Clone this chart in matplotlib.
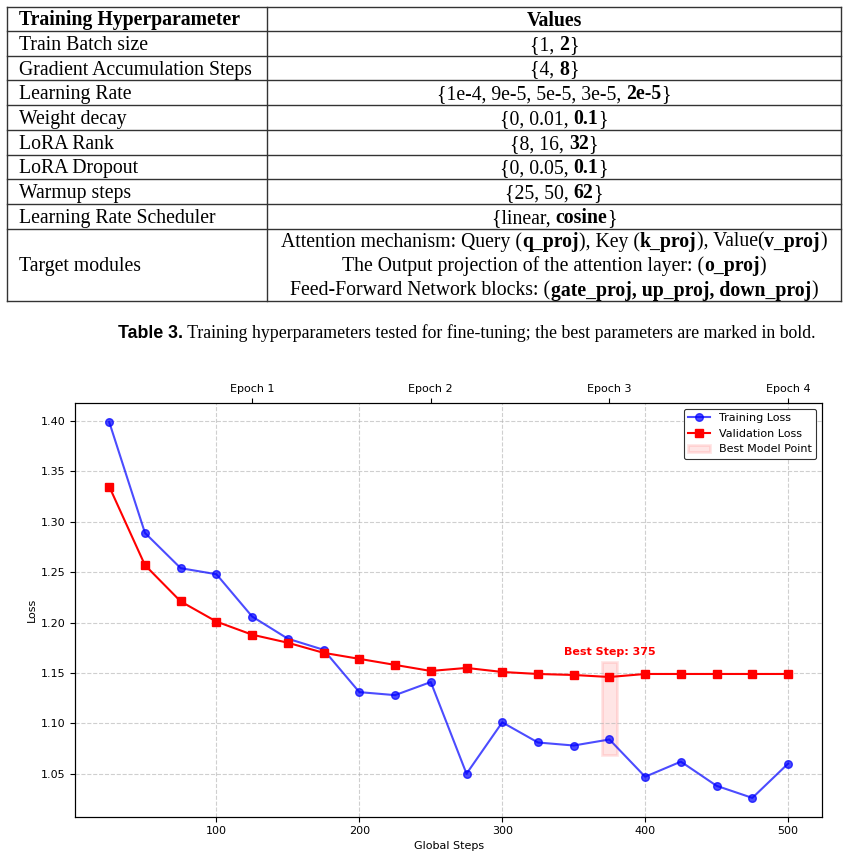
import numpy as np
import matplotlib
matplotlib.use("Agg")
import matplotlib.pyplot as plt
from matplotlib.patches import Rectangle
from matplotlib.lines import Line2D

# ---------------- data ----------------
steps = [25, 50, 75, 100, 125, 150, 175, 200, 225, 250, 275, 300, 325, 350,
         375, 400, 425, 450, 475, 500]
train_loss = [1.399, 1.289, 1.254, 1.248, 1.206, 1.184, 1.173, 1.131, 1.128,
              1.141, 1.050, 1.101, 1.081, 1.078, 1.084, 1.047, 1.062, 1.038,
              1.026, 1.060]
val_loss = [1.335, 1.257, 1.221, 1.201, 1.188, 1.180, 1.170, 1.164, 1.158,
            1.152, 1.155, 1.151, 1.149, 1.148, 1.146, 1.149, 1.149, 1.149,
            1.149, 1.149]
epoch_steps = [125, 250, 375, 500]
epoch_labels = ["Epoch 1", "Epoch 2", "Epoch 3", "Epoch 4"]

table_header = ["Training Hyperparameter", "Values"]
param_names = ["Train Batch size", "Gradient Accumulation Steps", "Learning Rate",
               "Weight decay", "LoRA Rank", "LoRA Dropout", "Warmup steps",
               "Learning Rate Scheduler", "Target modules"]
# each value: list of lines, each line a list of (text, is_bold)
param_values = [
    [[("{1, ", False), ("2", True), ("}", False)]],
    [[("{4, ", False), ("8", True), ("}", False)]],
    [[("{1e-4, 9e-5, 5e-5, 3e-5, ", False), ("2e-5", True), ("}", False)]],
    [[("{0, 0.01, ", False), ("0.1", True), ("}", False)]],
    [[("{8, 16, ", False), ("32", True), ("}", False)]],
    [[("{0, 0.05, ", False), ("0.1", True), ("}", False)]],
    [[("{25, 50, ", False), ("62", True), ("}", False)]],
    [[("{linear, ", False), ("cosine", True), ("}", False)]],
    [[("Attention mechanism: Query (", False), ("q_proj", True), ("), Key (", False),
      ("k_proj", True), ("), Value(", False), ("v_proj", True), (")", False)],
     [("The Output projection of the attention layer: (", False), ("o_proj", True), (")", False)],
     [("Feed-Forward Network blocks: (", False), ("gate_proj, up_proj, down_proj", True), (")", False)]],
]
caption_bold = "Table 3."
caption_text = " Training hyperparameters tested for fine-tuning; the best parameters are marked in bold."

# ---------------- figure ----------------
W, H = 848, 859
fig = plt.figure(figsize=(W / 100, H / 100), dpi=100)
renderer = fig.canvas.get_renderer()

SERIF = "Liberation Serif"
TFS = 14.2


def fx(x):
    return x / W


def fy(y):
    return 1 - y / H


def seg_width(s, **kw):
    t = fig.text(0, 0, "|" + s + "|", **kw)
    w1 = t.get_window_extent(renderer).width
    t.remove()
    t = fig.text(0, 0, "||", **kw)
    w0 = t.get_window_extent(renderer).width
    t.remove()
    return w1 - w0


def rich_text(x, y, segs, ha="center", family=SERIF, size=TFS):
    kws = [dict(family=family, size=size, weight="bold" if b else "normal") for s, b in segs]
    widths = [seg_width(s, **kw) for (s, b), kw in zip(segs, kws)]
    total = sum(widths)
    x0 = x - total / 2 if ha == "center" else x
    for (s, b), kw, w in zip(segs, kws, widths):
        fig.text(fx(x0), fy(y), s, ha="left", va="baseline", **kw)
        x0 += w


# ---------------- table ----------------
tl, tr, tmid = 7, 841, 267
row_edges = [7, 31, 55.7, 80.4, 105.1, 129.8, 154.5, 179.2, 204, 228.8, 301]
lc = "#333333"
for yy in row_edges:
    fig.add_artist(Line2D([fx(tl), fx(tr)], [fy(yy), fy(yy)], color=lc, lw=1.0))
for xx in (tl, tmid, tr):
    fig.add_artist(Line2D([fx(xx), fx(xx)], [fy(row_edges[0]), fy(row_edges[-1])], color=lc, lw=1.0))

base_off = 6.5
hy = (row_edges[0] + row_edges[1]) / 2 + base_off
fig.text(fx(19), fy(hy), table_header[0], family=SERIF, size=TFS, weight="bold", va="baseline")
fig.text(fx((tmid + tr) / 2), fy(hy), table_header[1], family=SERIF, size=TFS, weight="bold",
         va="baseline", ha="center")
for i, (name, val) in enumerate(zip(param_names, param_values)):
    top, bot = row_edges[i + 1], row_edges[i + 2]
    cy = (top + bot) / 2
    fig.text(fx(19), fy(cy + base_off), name, family=SERIF, size=TFS, va="baseline")
    n = len(val)
    lh = 24.5
    for j, line in enumerate(val):
        ly = cy + (j - (n - 1) / 2) * lh + base_off
        rich_text((tmid + tr) / 2, ly, line)

# caption
CFS = 12.8
cap_y = 337.5
wb = seg_width(caption_bold, family="Liberation Sans", size=CFS, weight="bold")
wt = seg_width(caption_text, family=SERIF, size=CFS)
cx0 = 466.5 - (wb + wt) / 2
fig.text(fx(cx0), fy(cap_y), caption_bold, family="Liberation Sans", size=CFS, weight="bold",
         va="baseline")
fig.text(fx(cx0 + wb), fy(cap_y), caption_text, family=SERIF, size=CFS, va="baseline")

# ---------------- chart ----------------
FS = 8.0
ax = fig.add_axes([fx(75.3), fy(816.7), (822 - 75.3) / W, (816.7 - 403.3) / H])
ax.plot(steps, train_loss, "o-", color="blue", alpha=0.7, lw=1.5, ms=5.5, label="Training Loss")
ax.plot(steps, val_loss, "s-", color="red", lw=1.5, ms=5.5, label="Validation Loss")

bi = int(np.argmin(val_loss))
best_step = steps[bi]
lo = train_loss[bi] - 0.015
hi = val_loss[bi] + 0.015
rect = Rectangle((best_step - 5, lo), 10, hi - lo, facecolor="red", edgecolor="red",
                 alpha=0.1, lw=2, label="Best Model Point")
ax.add_patch(rect)
ax.text(best_step, val_loss[bi] + 0.02, f"Best Step: {best_step}", color="red",
        fontweight="bold", fontsize=FS, ha="center", va="bottom")

ax.grid(True, linestyle="--", alpha=0.6, lw=0.8)
ax.set_xticks([100, 200, 300, 400, 500])
ax.tick_params(labelsize=FS)
ax.set_xlabel("Global Steps", fontsize=FS, labelpad=3)
ax.set_ylabel("Loss", fontsize=FS, labelpad=2.5)
ax.autoscale_view()
leg = ax.legend(loc="upper right", fontsize=FS, framealpha=1, edgecolor="#333333",
                fancybox=True)
leg.get_frame().set_linewidth(0.8)

ax2 = ax.twiny()
ax2.set_xlim(ax.get_xlim())
ax2.set_xticks(epoch_steps)
ax2.set_xticklabels(epoch_labels)
ax2.tick_params(labelsize=FS)

fig.savefig("out.png", dpi=100)
